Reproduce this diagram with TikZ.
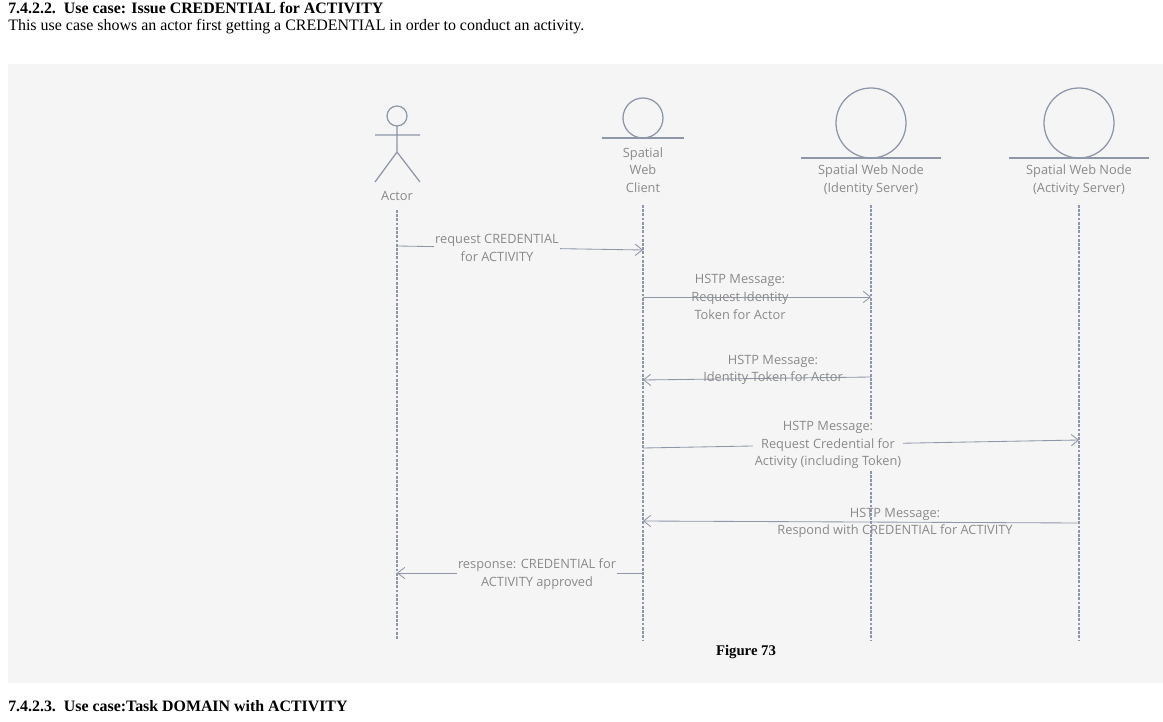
\documentclass[tikz,border=0pt]{standalone}
\usepackage{fontspec}
\setmainfont{Liberation Serif}
\newfontfamily\diag{Open Sans}
\usetikzlibrary{arrows.meta,positioning}
\definecolor{bgc}{HTML}{F5F5F5}
\definecolor{lnc}{HTML}{8E97A8}
\definecolor{txc}{HTML}{8A8A8A}
\begin{document}
\begin{tikzpicture}
  [x=0.025cm,y=-0.025cm,
   part/.style={draw=lnc,line width=0.9pt},
   life/.style={draw=lnc,line width=0.8pt,dash pattern=on 2pt off 1pt},
   msg/.style={->,draw=lnc,line width=0.6pt,>={Straight Barb[length=5pt,width=8pt]}},
   lbl/.style={font=\diag\fontsize{9.1}{12.5}\selectfont,text=txc,align=center,inner sep=1pt},
   cut/.style={lbl,fill=bgc},
   head/.style={font=\bfseries\fontsize{11.3}{12}\selectfont,anchor=west,inner sep=0pt}]
  \useasboundingbox (0,0) rectangle (1163,722);
  \fill[bgc] (8,64) rectangle (1163,683);

  \node[head] (title) at (8,8) {7.4.2.2.\ \ Use case: Issue CREDENTIAL for ACTIVITY};
  \node[head,font=\fontsize{11.35}{12}\selectfont] (intro) at (8,27)
    {This use case shows an actor first getting a CREDENTIAL in order to conduct an activity.};
  \node[head] (next) at (8,706) {7.4.2.3.\ \ Use case:Task DOMAIN with ACTIVITY};
  \node[font=\bfseries\fontsize{10.5}{12}\selectfont] (fig) at (746,652) {Figure 73};

  % participants
  \draw[part] (397,116) circle (10);
  \draw[part] (397,126) -- (397,152) (375,135) -- (420,135)
              (375,182) -- (397,152) -- (420,182);
  \node[lbl] (actor) at (397,196) {Actor};
  \draw[part] (643,118) circle (20);
  \draw[part] (602,138) -- (684,138);
  \node[lbl] (client) at (643,170) {Spatial\\Web\\Client};
  \draw[part] (871,123) circle (35);
  \draw[part] (801,158) -- (941,158);
  \node[lbl] (ident) at (871,180) {Spatial Web Node\\(Identity Server)};
  \draw[part] (1079,123) circle (35);
  \draw[part] (1009,158) -- (1149,158);
  \node[lbl] (activ) at (1079,180) {Spatial Web Node\\(Activity Server)};

  % lifelines
  \coordinate (a0) at (397,210); \coordinate (a1) at (397,640);
  \coordinate (c0) at (643,205); \coordinate (c1) at (643,640);
  \coordinate (i0) at (871,205); \coordinate (i1) at (871,640);
  \coordinate (s0) at (1079,205); \coordinate (s1) at (1079,640);
  \foreach \p in {a,c,i,s} \draw[life] (\p0) -- (\p1);

  % messages
  \coordinate (m1a) at (397,246); \coordinate (m1b) at (643,250);
  \draw[msg] (m1a) -- (m1b);
  \node[cut] (t1) at (497,248) {request CREDENTIAL\\for ACTIVITY};

  \coordinate (m2a) at (643,297); \coordinate (m2b) at (871,297);
  \draw[msg] (m2a) -- (m2b);
  \node[lbl] (t2) at (740,297) {HSTP Message:\\Request Identity\\Token  for Actor};

  \coordinate (m3a) at (871,377); \coordinate (m3b) at (643,380);
  \draw[msg] (m3a) -- (m3b);
  \node[lbl] (t3) at (773,370) {HSTP Message:\\Identity Token  for Actor};

  \coordinate (m4a) at (643,448); \coordinate (m4b) at (1079,440);
  \draw[msg] (m4a) -- (m4b);
  \node[cut] (t4) at (828,445) {HSTP Message:\\Request Credential for\\Activity (including Token)};

  \coordinate (m5a) at (1079,523); \coordinate (m5b) at (643,521);
  \draw[msg] (m5a) -- (m5b);
  \node[lbl] (t5) at (895,523) {HSTP Message:\\Respond with CREDENTIAL for ACTIVITY};

  \coordinate (m6a) at (643,573); \coordinate (m6b) at (397,573);
  \draw[msg] (m6a) -- (m6b);
  \node[cut] (t6) at (537,574) {response: CREDENTIAL for\\ACTIVITY approved};
\end{tikzpicture}
\end{document}
